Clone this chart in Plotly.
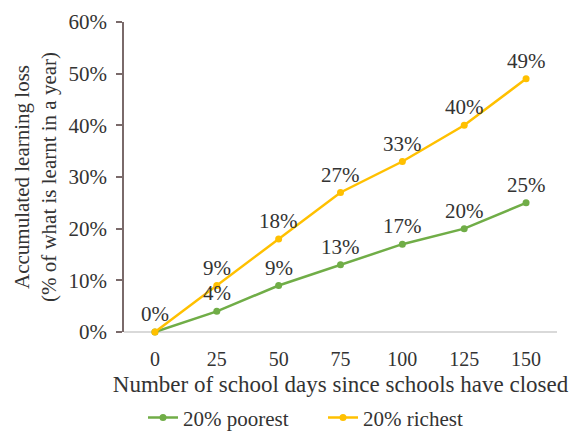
import plotly.graph_objects as go

days = [0, 25, 50, 75, 100, 125, 150]
poorest = [0, 4, 9, 13, 17, 20, 25]
richest = [0, 9, 18, 27, 33, 40, 49]
y_ticks = [0, 10, 20, 30, 40, 50, 60]

font_family = "Liberation Serif, Times New Roman, serif"
green = "#70AD47"
gold = "#FFC000"
txt = "#333333"

fig = go.Figure()
fig.add_trace(go.Scatter(
    x=days, y=poorest, name="20% poorest", mode="lines+markers",
    line=dict(color=green, width=2.5), marker=dict(color=green, size=7),
    cliponaxis=False,
))
fig.add_trace(go.Scatter(
    x=days, y=richest, name="20% richest", mode="lines+markers",
    line=dict(color=gold, width=2.5), marker=dict(color=gold, size=7),
    cliponaxis=False,
))

# data labels (the 0% label is shared by both series)
for i, (d, v) in enumerate(zip(days, poorest)):
    if i == 0:
        continue
    fig.add_annotation(x=d, y=v, text=f"{v}%", showarrow=False, yanchor="bottom", yshift=4,
                       font=dict(family=font_family, size=21, color=txt))
for d, v in zip(days, richest):
    fig.add_annotation(x=d, y=v, text=f"{v}%", showarrow=False, yanchor="bottom", yshift=4,
                       font=dict(family=font_family, size=21, color=txt))

fig.update_layout(
    width=578, height=435,
    margin=dict(l=116, r=29, t=14, b=111, autoexpand=False),
    paper_bgcolor="white", plot_bgcolor="white",
    font=dict(family=font_family, size=21, color=txt),
    showlegend=True,
    legend=dict(orientation="h", xref="container", yref="container",
                x=0.545, xanchor="center", y=0.058, yanchor="middle",
                font=dict(family=font_family, size=21, color=txt),
                itemwidth=30, tracegroupgap=0, entrywidth=135),
    xaxis=dict(
        range=[-12.5, 162.5], tickvals=days, ticktext=[str(d) for d in days],
        showgrid=False, zeroline=False, showline=False, ticks="",
        tickfont=dict(size=20), automargin=False, ticklabelstandoff=13,
        title=dict(text="Number of school days since schools have closed", font=dict(size=23), standoff=8),
    ),
    yaxis=dict(
        range=[0, 60], tickvals=y_ticks, ticktext=[f"{v}%" for v in y_ticks],
        showgrid=False, zeroline=True, zerolinecolor="#d9d9d9", zerolinewidth=1.5,
        showline=True, linecolor="#7a6a6a", linewidth=1.5,
        ticks="outside", ticklen=6, tickcolor="#7a6a6a", tickwidth=1.5,
        ticklabelstandoff=5,
        tickfont=dict(size=21), automargin=False,
        title=dict(text="Accumulated learning loss<br>(% of what is learnt in a year)", font=dict(size=21), standoff=6),
    ),
)

fig.write_html("out.html")
